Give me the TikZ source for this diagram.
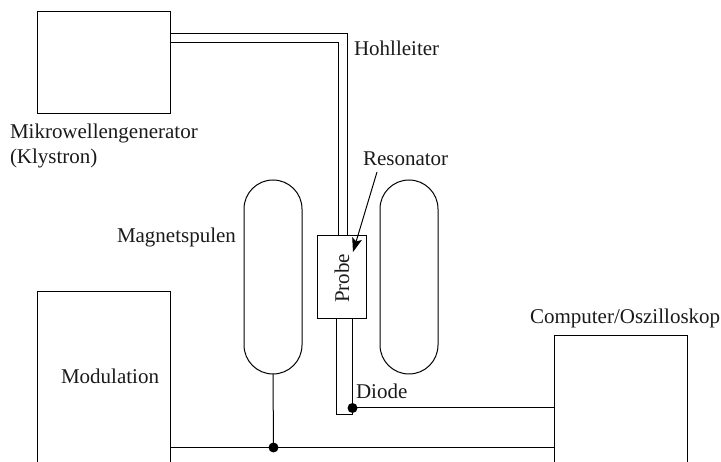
\documentclass[tikz,border=0pt]{standalone}
\usepackage{fontspec}
\setmainfont{Liberation Serif}
\usetikzlibrary{arrows.meta,calc}
\definecolor{ink}{HTML}{1A1A1A}
\tikzset{
  x=1pt,y=-1pt,
  wire/.style={draw=black,line width=1pt},
  blockbox/.style={wire,rectangle,anchor=north west,inner sep=0pt,outer sep=0pt},
  coil/.style={wire,rectangle,anchor=north west,inner sep=0pt,outer sep=0pt,rounded corners=29pt,minimum width=58pt,minimum height=194pt},
  lbl/.style={anchor=base west,inner sep=0pt,outer sep=0pt,text=ink,font=\fontsize{21}{25}\selectfont},
  junction/.style={circle,fill=black,draw=none,minimum size=10pt,inner sep=0pt},
}
\begin{document}
\begin{tikzpicture}
\useasboundingbox (0,0) rectangle (721,462);
\clip (0,0) rectangle (721,462);
% blocks
\node[blockbox,minimum width=133pt,minimum height=102pt] (gen) at (37.5,11.5) {};
\node[blockbox,minimum width=133pt,minimum height=190pt] (mod) at (37.5,291.5) {};
\node[blockbox,minimum width=133pt,minimum height=147pt] (comp) at (554.5,335.5) {};
\node[blockbox,minimum width=48.5pt,minimum height=83pt] (probe) at (317.5,235.5) {};
\node[coil] (coilL) at (244,180) {};
\node[coil] (coilR) at (380,180) {};
% waveguide
\coordinate (wgA) at (gen.east |- 0,33.5);
\coordinate (wgB) at (gen.east |- 0,42.5);
\coordinate (wgC) at (347.5,33.5);
\coordinate (wgD) at (338.5,42.5);
\draw[wire] (wgA) -- (wgC) -- (wgC |- probe.north);
\draw[wire] (wgB) -- (wgD) -- (wgD |- probe.north);
% diode mount
\coordinate (dmL) at (336.5,415);
\coordinate (dmR) at (352.5,415);
\draw[wire] (dmL |- probe.south) -- (dmL) -- (dmR) -- (dmR |- probe.south);
% signal lines
\node[junction] (diode) at (352.5,408) {};
\node[junction] (bus) at (273.5,447.5) {};
\draw[wire] (diode.center) -- (diode.center -| comp.west);
\draw[wire] (mod.east |- bus) -- (bus.center) -- (bus.center -| comp.west);
\draw[wire] (coilL.south) -- (bus.center);
% Resonator arrow
\coordinate (resStart) at (377,172);
\coordinate (resTip) at (353,252);
\draw[wire,-{Stealth[length=14pt,width=10pt,inset=3pt]}] (resStart) -- (resTip);
% labels
\node[lbl] (lgen) at (10,139) {Mikrowellengenerator};
\node[lbl] (lkly) at (10,164) {(Klystron)};
\node[lbl] (lhoh) at (354,56) {Hohlleiter};
\node[lbl] (lres) at (363,166) {Resonator};
\node[lbl] (lmag) at (117,243) {Magnetspulen};
\node[lbl] (lmod) at (61,384) {Modulation};
\node[lbl] (ldio) at (356,399) {Diode};
\node[lbl] (lcom) at (530,324) {Computer/Oszilloskop};
\node[lbl,anchor=base,rotate=90] (lpro) at (349,278.5) {Probe};
\end{tikzpicture}
\end{document}
